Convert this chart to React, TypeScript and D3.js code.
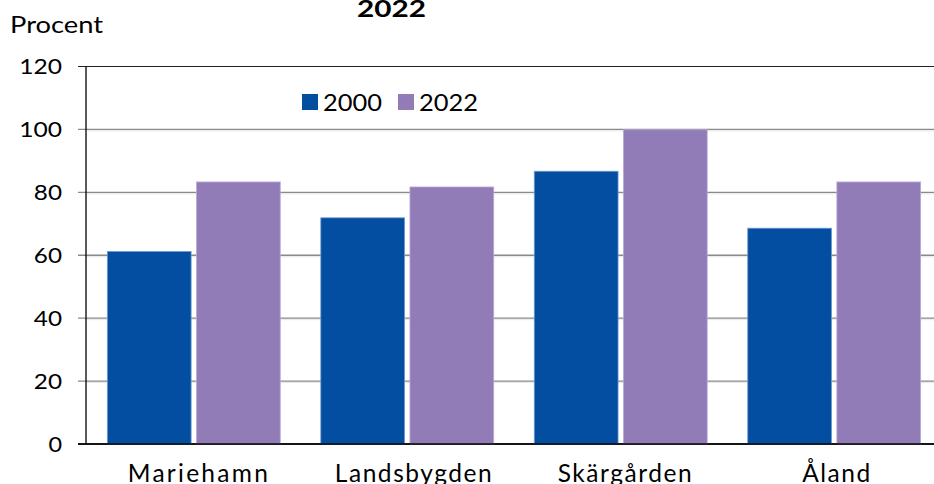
import React from "react";
import * as d3 from "d3";

const categories = ["Mariehamn", "Landsbygden", "Skärgården", "Åland"];
const series = ["2000", "2022"];
const values2000 = [61.2, 71.9, 86.7, 68.6];
const values2022 = [83.3, 81.7, 99.9, 83.3];
const yTicks = [0, 20, 40, 60, 80, 100, 120];
const colors = ["#044EA2", "#917CB8"];

const W = 934;
const H = 484;
const left = 86;
const right = 942;
const top = 66.5;
const bottom = 444;
const font = "Lato, 'Open Sans', sans-serif";
const labelWidths: Record<string, number> = { Mariehamn: 140, Landsbygden: 157, "Skärgården": 134, "Åland": 68 };
const labelShift: Record<string, number> = { Mariehamn: 4, Landsbygden: 6, "Skärgården": 4, "Åland": 2 };

export default function App() {
  const x = d3.scaleBand<string>().domain(categories).range([left, right]).paddingInner(0.19).paddingOuter(0.1);
  const x1 = d3.scaleBand<string>().domain(series).range([0, x.bandwidth()]).paddingInner(0.06);
  const y = d3.scaleLinear().domain([0, 120]).range([bottom, top]);
  const data = [values2000, values2022];

  return (
    <svg width={W} height={H} style={{ position: "absolute", left: 0, top: 0, background: "#fff" }}>
      <text x={357} y={16.5} textLength={69} lengthAdjust="spacingAndGlyphs" fontFamily={font} fontWeight="bold" fontSize={23} fill="#000">2022</text>
      <text x={10} y={33} textLength={93} lengthAdjust="spacingAndGlyphs" fontFamily={font} fontSize={23} fill="#000">Procent</text>
      {yTicks.map((t) => {
        const n = String(t).length;
        return (
          <g key={t}>
            {t > 0 && t < 120 && (
              <line x1={left} x2={right} y1={y(t) + 1.5} y2={y(t) + 1.5} stroke="#e6e6e6" strokeWidth={1} />
            )}
            <line x1={left - 8} x2={right} y1={y(t)} y2={y(t)} stroke={t === 120 || t === 0 ? "#222" : "#8a8a8a"} strokeWidth={t === 120 ? 1 : 1.3} />
            <text x={63 - n * 14.6} y={y(t)} dy="0.36em" textLength={n * 14.6 - 1} lengthAdjust="spacingAndGlyphs" fontFamily={font} fontSize={21.5} fill="#000">{t}</text>
          </g>
        );
      })}
      {categories.map((c, i) => (
        <g key={c} transform={`translate(${x(c)},0)`}>
          {series.map((s, j) => (
            <rect
              key={s}
              x={x1(s)}
              y={y(data[j][i])}
              width={x1.bandwidth()}
              height={bottom - y(data[j][i])}
              fill={colors[j]}
              stroke={j === 0 ? "#6f9ad0" : "#b9aad6"}
              strokeWidth={0.8}
            />
          ))}
          <text
            x={x.bandwidth() / 2 + labelShift[c] - labelWidths[c] / 2}
            y={481.5}
            textLength={labelWidths[c]}
            lengthAdjust="spacing"
            fontFamily={font}
            fontSize={24.5}
            fill="#000"
          >{c}</text>
        </g>
      ))}
      <line x1={left} x2={left} y1={top} y2={bottom} stroke="#000" strokeWidth={1.3} />
      <line x1={left - 8} x2={right} y1={bottom} y2={bottom} stroke="#000" strokeWidth={1.3} />
      {series.map((s, j) => (
        <g key={s} transform={`translate(${302 + j * 96},94)`}>
          <rect x={0} y={0} width={16} height={16} fill={colors[j]} />
          <text x={21} y={16.5} textLength={59} lengthAdjust="spacingAndGlyphs" fontFamily={font} fontSize={23} fill="#000">{s}</text>
        </g>
      ))}
    </svg>
  );
}
